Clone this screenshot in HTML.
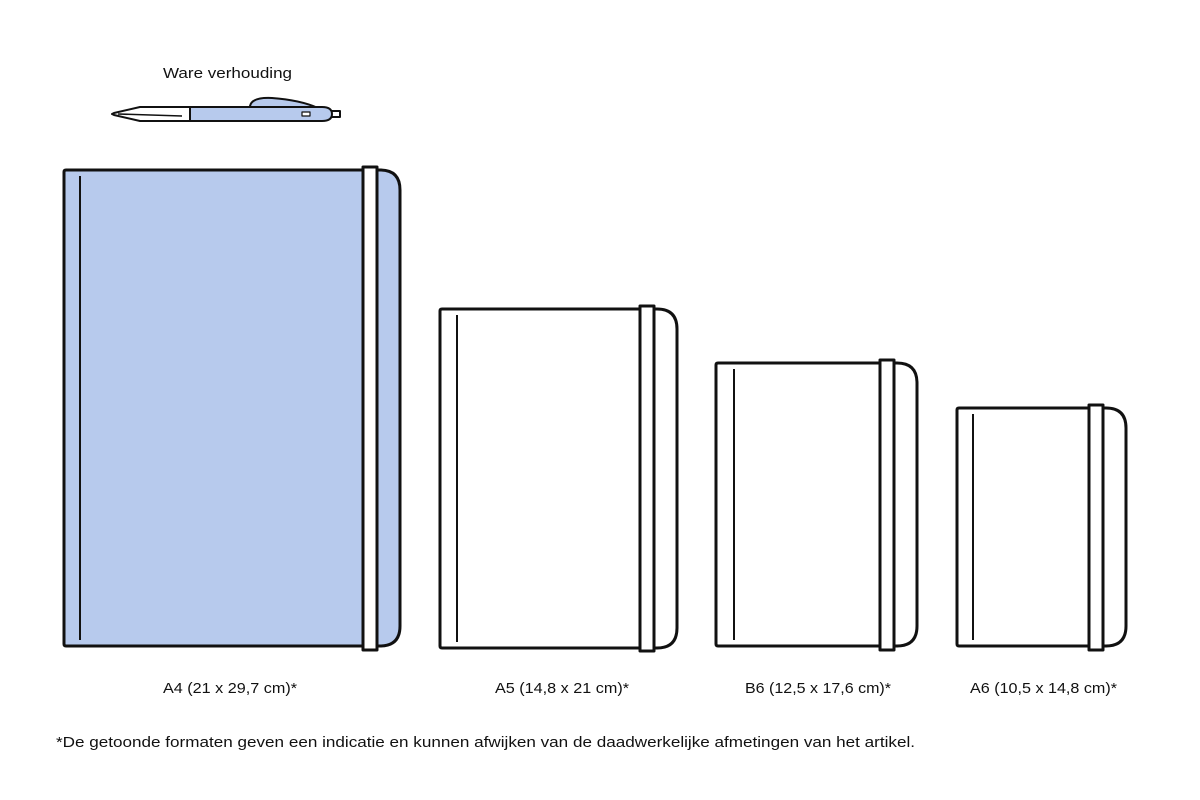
<!DOCTYPE html>
<html><head><style>
body{margin:0;background:#fff;width:1200px;height:800px;overflow:hidden}
svg{display:block}
text{font-family:"Liberation Sans",sans-serif;fill:#111}
</style></head><body>
<svg width="1200" height="800" viewBox="0 0 1200 800">
<g stroke="#111" stroke-width="3" stroke-linejoin="round">
<path d="M64 172 Q64 170 66 170 H380 Q400 170 400 190 V626 Q400 646 380 646 H66 Q64 646 64 644 Z" fill="#b7caed"/>
<line x1="80" y1="176" x2="80" y2="640" stroke-width="2"/>
<rect x="363" y="167" width="14" height="483" fill="#fff"/>
<path d="M440 311 Q440 309 442 309 H657 Q677 309 677 329 V628 Q677 648 657 648 H442 Q440 648 440 646 Z" fill="#fff"/>
<line x1="457" y1="315" x2="457" y2="642" stroke-width="2"/>
<rect x="640" y="306" width="14" height="345" fill="#fff"/>
<path d="M716 365 Q716 363 718 363 H897 Q917 363 917 383 V626 Q917 646 897 646 H718 Q716 646 716 644 Z" fill="#fff"/>
<line x1="734" y1="369" x2="734" y2="640" stroke-width="2"/>
<rect x="880" y="360" width="14" height="290" fill="#fff"/>
<path d="M957 410 Q957 408 959 408 H1106 Q1126 408 1126 428 V626 Q1126 646 1106 646 H959 Q957 646 957 644 Z" fill="#fff"/>
<line x1="973" y1="414" x2="973" y2="640" stroke-width="2"/>
<rect x="1089" y="405" width="14" height="245" fill="#fff"/>
</g>
<g stroke="#111" stroke-width="2" stroke-linejoin="round">
<path d="M250 106 Q252 97 272 98 Q300 100 318 108 L250 108 Z" fill="#b7caed"/>
<rect x="330" y="111" width="10" height="6" fill="#fff"/>
<path d="M190 107 H322 Q332 107 332 114 Q332 121 322 121 H190 Z" fill="#b7caed"/>
<path d="M190 107 V121 H140 L114 115 L112 114 L114 113 L140 107 Z" fill="#fff"/>
<line x1="118" y1="114" x2="182" y2="116" stroke-width="1.5"/>
<rect x="302" y="112" width="8" height="4" fill="#fff" stroke-width="1.2"/>
</g>
<text x="163" y="78" font-size="15" textLength="129" lengthAdjust="spacingAndGlyphs">Ware verhouding</text>
<text x="163" y="693" font-size="15" textLength="134" lengthAdjust="spacingAndGlyphs">A4 (21 x 29,7 cm)*</text>
<text x="495" y="693" font-size="15" textLength="134" lengthAdjust="spacingAndGlyphs">A5 (14,8 x 21 cm)*</text>
<text x="745" y="693" font-size="15" textLength="146" lengthAdjust="spacingAndGlyphs">B6 (12,5 x 17,6 cm)*</text>
<text x="970" y="693" font-size="15" textLength="147" lengthAdjust="spacingAndGlyphs">A6 (10,5 x 14,8 cm)*</text>
<text x="56" y="747" font-size="15" textLength="859" lengthAdjust="spacingAndGlyphs">*De getoonde formaten geven een indicatie en kunnen afwijken van de daadwerkelijke afmetingen van het artikel.</text>
</svg>
</body></html>
